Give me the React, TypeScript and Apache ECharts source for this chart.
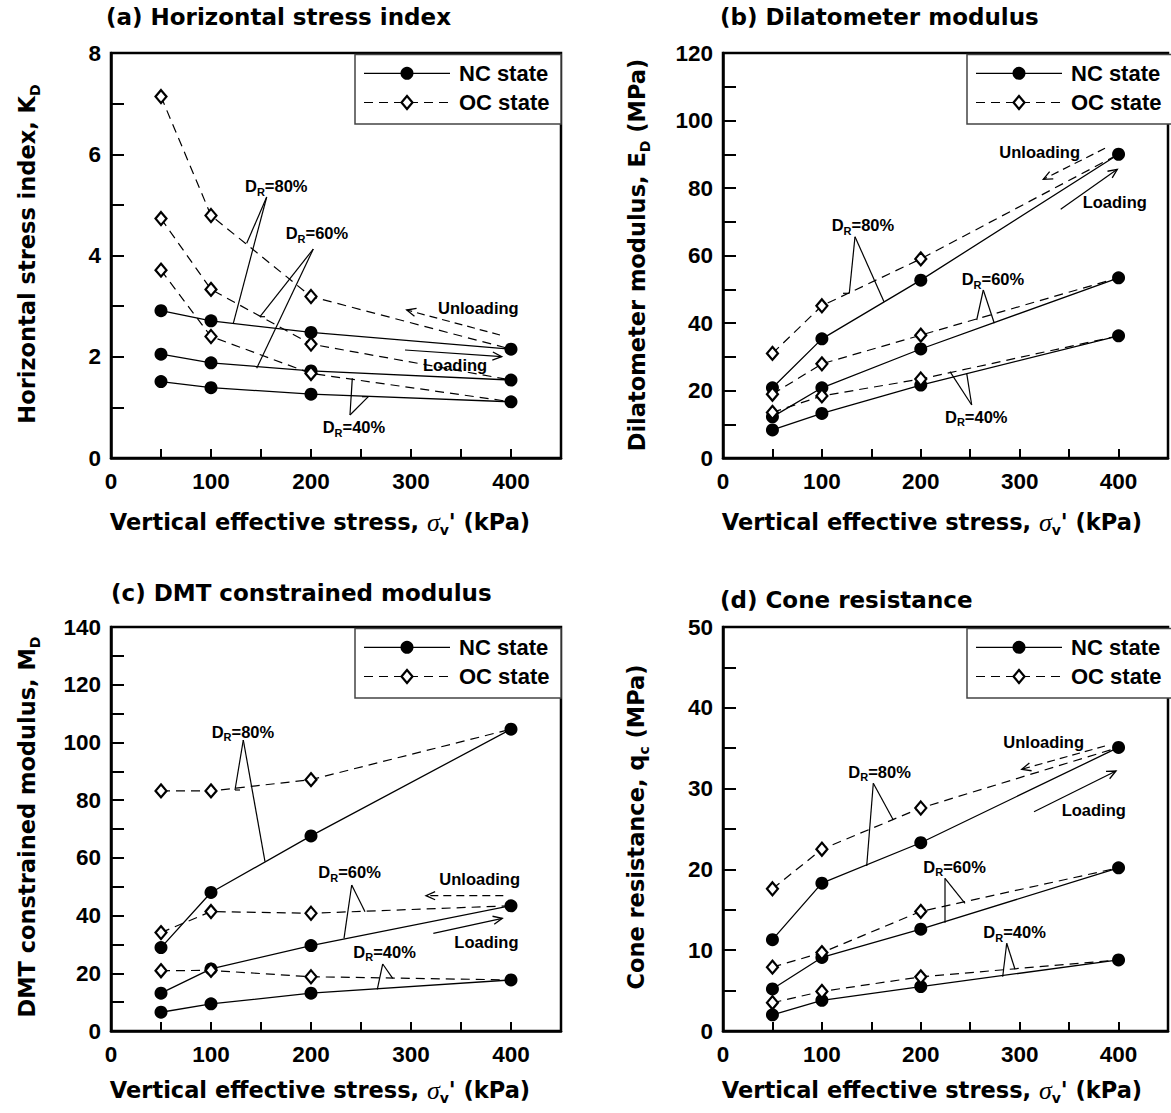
import React, { useEffect, useRef } from "react";
import * as echarts from "echarts";

// ---------- DATA ----------
const STRESS = [50, 100, 200, 400];

// (a) Horizontal stress index K_D
const kdNC80 = [2.91, 2.71, 2.48, 2.15];
const kdNC60 = [2.05, 1.88, 1.72, 1.54];
const kdNC40 = [1.51, 1.39, 1.26, 1.11];
const kdOC80 = [7.14, 4.79, 3.19, 2.15];
const kdOC60 = [4.73, 3.33, 2.25, 1.54];
const kdOC40 = [3.71, 2.4, 1.67, 1.11];

// (b) Dilatometer modulus E_D (MPa)
const edNC80 = [20.8, 35.3, 52.7, 90.0];
const edNC60 = [12.2, 20.8, 32.3, 53.4];
const edNC40 = [8.3, 13.2, 21.6, 36.2];
const edOC80 = [31.0, 45.1, 59.0, 90.0];
const edOC60 = [18.9, 27.9, 36.4, 53.4];
const edOC40 = [13.5, 18.4, 23.4, 36.2];

// (c) DMT constrained modulus M_D
const mdNC80 = [28.9, 48.0, 67.6, 104.6];
const mdNC60 = [13.1, 21.5, 29.6, 43.4];
const mdNC40 = [6.5, 9.4, 13.1, 17.7];
const mdOC80 = [83.2, 83.2, 87.1, 104.6];
const mdOC60 = [34.1, 41.4, 40.8, 43.4];
const mdOC40 = [20.9, 21.0, 18.8, 17.7];

// (d) Cone resistance q_c (MPa)
const qcNC80 = [11.3, 18.3, 23.3, 35.1];
const qcNC60 = [5.2, 9.1, 12.6, 20.2];
const qcNC40 = [2.0, 3.8, 5.5, 8.8];
const qcOC80 = [17.6, 22.5, 27.6, 35.1];
const qcOC60 = [7.9, 9.7, 14.8, 20.2];
const qcOC40 = [3.5, 4.9, 6.7, 8.8];

const NC_SETS = [
  [kdNC80, kdNC60, kdNC40],
  [edNC80, edNC60, edNC40],
  [mdNC80, mdNC60, mdNC40],
  [qcNC80, qcNC60, qcNC40],
];
const OC_SETS = [
  [kdOC80, kdOC60, kdOC40],
  [edOC80, edOC60, edOC40],
  [mdOC80, mdOC60, mdOC40],
  [qcOC80, qcOC60, qcOC40],
];

const Y_MAX = [8, 120, 140, 50];
const Y_TICK = [1, 10, 10, 5];
const Y_LABEL_STEP = [2, 20, 20, 10];
const X_MAX = 450;
const X_TICK = 50;
const X_LABEL_STEP = 100;

const TITLES = [
  "(a) Horizontal stress index",
  "(b) Dilatometer modulus",
  "(c) DMT constrained modulus",
  "(d) Cone resistance",
];
const Y_NAMES = [
  "{b|Horizontal stress index, K}{s|D}",
  "{b|Dilatometer modulus, E}{s|D}{b| (MPa)}",
  "{b|DMT constrained modulus, M}{s|D}",
  "{b|Cone resistance, q}{s|c}{b| (MPa)}",
];
const X_NAME = "{b|Vertical effective stress, }{sig|σ}{s|v}{b|' (kPa)}";
const LEGEND_NAMES = ["NC state", "OC state"];
const DR_LABELS = ["80", "60", "40"];

// ---------- LAYOUT ----------
const GRIDS = [
  { left: 111, top: 53, width: 450, height: 405 },
  { left: 723, top: 53, width: 450, height: 405 },
  { left: 111, top: 627, width: 450, height: 404 },
  { left: 723, top: 627, width: 450, height: 404 },
];
const TITLE_POS = [
  [106, 17],
  [720, 17],
  [111, 593],
  [720, 600],
];
const XNAME_POS = [
  [320, 522],
  [932, 522],
  [320, 1090],
  [932, 1090],
];
const YNAME_POS = [
  [27, 254],
  [637, 255],
  [27, 827],
  [636, 827],
];

// annotation geometry (pixels): labels, leader lines, arrows
const ANNOT = [
  {
    dr: [
      { t: [245, 186], lines: [[266.7, 197, 246.7, 243.3], [266.7, 197, 233.3, 323.3]] },
      { t: [285.7, 233], lines: [[313.3, 249, 260, 316.7], [313.3, 249, 256.7, 368.3], [260, 316.7, 265, 316.7]] },
      { t: [322.7, 427], lines: [[350, 415, 352.3, 378.3], [350, 415, 368.3, 396.7], [368.3, 396.7, 362, 396.7]] },
    ],
    unl: { t: [438, 308], a: [500, 335, 406.7, 310] },
    lod: { t: [423, 365], a: [405, 350, 501.7, 356.7] },
  },
  {
    dr: [
      { t: [831.7, 225], lines: [[855, 236.7, 849.3, 293.3], [849.3, 293.3, 843, 293.3], [855, 236.7, 884, 301.7]] },
      { t: [961.7, 279.3], lines: [[983.3, 290, 976.7, 320], [983.3, 290, 994.3, 323.3]] },
      { t: [945, 416.7], lines: [[971.7, 405, 950, 371.7], [971.7, 405, 966.7, 373.3]] },
    ],
    unl: { t: [999.3, 151.7], a: [1105, 148.3, 1043.3, 179.3] },
    lod: { t: [1082.7, 202.3], a: [1060.7, 209.3, 1117.3, 169.3] },
  },
  {
    dr: [
      { t: [211.7, 731.7], lines: [[243.3, 740, 235, 790], [235, 790, 240, 790], [243.3, 740, 265, 861.7]] },
      { t: [318.3, 872.3], lines: [[351.7, 885, 344, 938.3], [351.7, 885, 365, 911.7]] },
      { t: [353.3, 951.7], lines: [[382.7, 964, 377.3, 989.3], [382.7, 964, 392.7, 978.3]] },
    ],
    unl: { t: [439.3, 879.3], a: [503.3, 895.7, 426, 895.7] },
    lod: { t: [454.3, 941.7], a: [433.3, 933.3, 502.3, 918.3] },
  },
  {
    dr: [
      { t: [848.3, 771.7], lines: [[873.3, 783.3, 866.7, 866], [873.3, 783.3, 893.3, 820]] },
      { t: [923.3, 866.7], lines: [[945, 878.3, 945, 922.7], [945, 878.3, 965, 903.3]] },
      { t: [983.3, 932.3], lines: [[1006.7, 943.3, 1002.7, 976.7], [1006.7, 943.3, 1015, 969.3]] },
    ],
    unl: { t: [1003.3, 741.7], a: [1105, 746, 1021.7, 769.3] },
    lod: { t: [1061.7, 810], a: [1034, 811.7, 1116, 771] },
  },
];

const SANS_W = "DejaVu Sans";
const SANS = "Liberation Sans, Arial, sans-serif";
const SERIF = "Liberation Serif, Times New Roman, serif";

function seriesFor(i: number) {
  const out: any[] = [];
  NC_SETS[i].forEach((vals) => {
    out.push({
      type: "line",
      xAxisIndex: i,
      yAxisIndex: i,
      data: STRESS.map((x, k) => [x, vals[k]]),
      symbol: "circle",
      symbolSize: 13,
      itemStyle: { color: "#000" },
      lineStyle: { color: "#000", width: 1.3 },
      z: 3,
      silent: true,
    });
  });
  OC_SETS[i].forEach((vals) => {
    out.push({
      type: "line",
      xAxisIndex: i,
      yAxisIndex: i,
      data: STRESS.map((x, k) =>
        k === STRESS.length - 1 ? { value: [x, vals[k]], symbol: "none" } : [x, vals[k]]
      ),
      symbol: "diamond",
      symbolSize: [11, 13],
      itemStyle: { color: "#fff", borderColor: "#000", borderWidth: 2.2 },
      lineStyle: { color: "#000", width: 1.2, type: [9, 6] },
      z: 4,
      silent: true,
    });
  });
  return out;
}

function seg(x1: number, y1: number, x2: number, y2: number, dashed = false) {
  return {
    type: "line",
    z: 20,
    silent: true,
    shape: { x1, y1, x2, y2 },
    style: { stroke: "#000", lineWidth: 1.2, lineDash: dashed ? [8, 5] : null },
  };
}

function arrow(x1: number, y1: number, x2: number, y2: number, dashed: boolean) {
  const ang = Math.atan2(y1 - y2, x1 - x2);
  const L = 10;
  const a = 0.42;
  const p1 = [x2 + L * Math.cos(ang + a), y2 + L * Math.sin(ang + a)];
  const p2 = [x2 + L * Math.cos(ang - a), y2 + L * Math.sin(ang - a)];
  return [
    seg(x1, y1, x2, y2, dashed),
    {
      type: "polyline",
      z: 20,
      silent: true,
      shape: { points: [p1, [x2, y2], p2] },
      style: { stroke: "#000", lineWidth: 1.3, fill: null },
    },
  ];
}

const annRich = {
  m: { fontFamily: SANS, fontWeight: "bold", fontSize: 16.5, lineHeight: 22, fill: "#000" },
  s: { fontFamily: SANS, fontWeight: "bold", fontSize: 11, lineHeight: 10, verticalAlign: "bottom", fill: "#000" },
};

function annText(x: number, y: number, text: string) {
  return {
    type: "text",
    z: 21,
    silent: true,
    x,
    y,
    style: { text, rich: annRich, align: "left", verticalAlign: "middle", fill: "#000" },
  };
}

function buildGraphics() {
  const g: any[] = [];
  const nameRich = {
    b: { fontFamily: SANS_W, fontWeight: "bold", fontSize: 22.5, lineHeight: 30, fill: "#000" },
    s: { fontFamily: SANS_W, fontWeight: "bold", fontSize: 14, lineHeight: 14, verticalAlign: "bottom", fill: "#000" },
    sig: { fontFamily: SERIF, fontStyle: "italic", fontWeight: "normal", fontSize: 26, lineHeight: 30, fill: "#000" },
  };
  for (let i = 0; i < 4; i++) {
    const gr = GRIDS[i];
    // title
    g.push({
      type: "text",
      x: TITLE_POS[i][0],
      y: TITLE_POS[i][1],
      silent: true,
      style: {
        text: TITLES[i],
        fontFamily: SANS_W,
        fontWeight: "bold",
        fontSize: 23,
        fill: "#000",
        align: "left",
        verticalAlign: "middle",
      },
    });
    // x name
    g.push({
      type: "text",
      x: XNAME_POS[i][0],
      y: XNAME_POS[i][1],
      silent: true,
      style: { text: X_NAME, rich: nameRich, align: "center", verticalAlign: "middle", fill: "#000" },
    });
    // y name
    g.push({
      type: "text",
      x: YNAME_POS[i][0],
      y: YNAME_POS[i][1],
      rotation: Math.PI / 2,
      silent: true,
      style: { text: Y_NAMES[i], rich: nameRich, align: "center", verticalAlign: "middle", fill: "#000" },
    });
    // legend
    const L = gr.left;
    const T = gr.top;
    g.push({
      type: "rect",
      z: 15,
      silent: true,
      shape: { x: L + 244, y: T + 1.5, width: 206, height: 69.5 },
      style: { fill: "#fff", stroke: "#444", lineWidth: 1.5 },
    });
    const rows = [T + 20.3, T + 49.5];
    // NC row
    g.push({
      type: "line",
      z: 16,
      silent: true,
      shape: { x1: L + 253, y1: rows[0], x2: L + 339, y2: rows[0] },
      style: { stroke: "#000", lineWidth: 1.3 },
    });
    g.push({
      type: "circle",
      z: 17,
      silent: true,
      shape: { cx: L + 296, cy: rows[0], r: 6.5 },
      style: { fill: "#000" },
    });
    // OC row
    g.push({
      type: "line",
      z: 16,
      silent: true,
      shape: { x1: L + 253, y1: rows[1], x2: L + 339, y2: rows[1] },
      style: { stroke: "#000", lineWidth: 1.2, lineDash: [9, 6] },
    });
    const mx = L + 296;
    const my = rows[1];
    g.push({
      type: "polygon",
      z: 17,
      silent: true,
      shape: { points: [[mx, my - 6.5], [mx + 5.5, my], [mx, my + 6.5], [mx - 5.5, my]] },
      style: { fill: "#fff", stroke: "#000", lineWidth: 2.2 },
    });
    LEGEND_NAMES.forEach((nm, k) => {
      g.push({
        type: "text",
        z: 17,
        silent: true,
        x: L + 348,
        y: rows[k],
        style: {
          text: nm,
          fontFamily: SANS,
          fontWeight: "bold",
          fontSize: 22,
          fill: "#000",
          align: "left",
          verticalAlign: "middle",
        },
      });
    });
    // annotations
    const an = ANNOT[i];
    an.dr.forEach((d, k) => {
      g.push(annText(d.t[0], d.t[1], `{m|D}{s|R}{m|=${DR_LABELS[k]}%}`));
      d.lines.forEach((ln) => g.push(seg(ln[0], ln[1], ln[2], ln[3])));
    });
    g.push(annText(an.unl.t[0], an.unl.t[1], "{m|Unloading}"));
    g.push(...arrow(an.unl.a[0], an.unl.a[1], an.unl.a[2], an.unl.a[3], true));
    g.push(annText(an.lod.t[0], an.lod.t[1], "{m|Loading}"));
    g.push(...arrow(an.lod.a[0], an.lod.a[1], an.lod.a[2], an.lod.a[3], false));
  }
  return g;
}

function buildOption() {
  const tickStyle = { color: "#000", width: 2 };
  const labelBase = { fontFamily: SANS, fontWeight: "bold", fontSize: 22.5, color: "#000" };
  return {
    animation: false,
    backgroundColor: "#fff",
    grid: GRIDS.map((g) => ({
      ...g,
      show: true,
      borderColor: "#000",
      borderWidth: 2.5,
      backgroundColor: "transparent",
      containLabel: false,
    })),
    xAxis: GRIDS.map((_, i) => ({
      gridIndex: i,
      type: "value",
      min: 0,
      max: X_MAX,
      interval: X_TICK,
      axisLine: { show: true, onZero: false, lineStyle: { color: "#000", width: 2.5 } },
      axisTick: { show: true, inside: true, length: 9, lineStyle: tickStyle },
      splitLine: { show: false },
      axisLabel: {
        ...labelBase,
        margin: 12,
        formatter: (v: number) => (v % X_LABEL_STEP === 0 && v < X_MAX ? String(v) : ""),
      },
    })),
    yAxis: GRIDS.map((_, i) => ({
      gridIndex: i,
      type: "value",
      min: 0,
      max: Y_MAX[i],
      interval: Y_TICK[i],
      axisLine: { show: true, onZero: false, lineStyle: { color: "#000", width: 2.5 } },
      axisTick: { show: true, inside: true, length: 13, lineStyle: tickStyle },
      splitLine: { show: false },
      axisLabel: {
        ...labelBase,
        margin: 10,
        formatter: (v: number) => (Math.round(v) % Y_LABEL_STEP[i] === 0 ? String(v) : ""),
      },
    })),
    series: [0, 1, 2, 3].flatMap((i) => seriesFor(i)),
    graphic: buildGraphics(),
  };
}

export default function App() {
  const ref = useRef<HTMLDivElement>(null);
  useEffect(() => {
    if (!ref.current) return;
    const chart = echarts.init(ref.current, null, { renderer: "svg" });
    chart.setOption(buildOption() as any);
    return () => chart.dispose();
  }, []);
  return (
    <div
      ref={ref}
      style={{ position: "absolute", left: 0, top: 0, width: 1171, height: 1113, background: "#fff" }}
    />
  );
}
